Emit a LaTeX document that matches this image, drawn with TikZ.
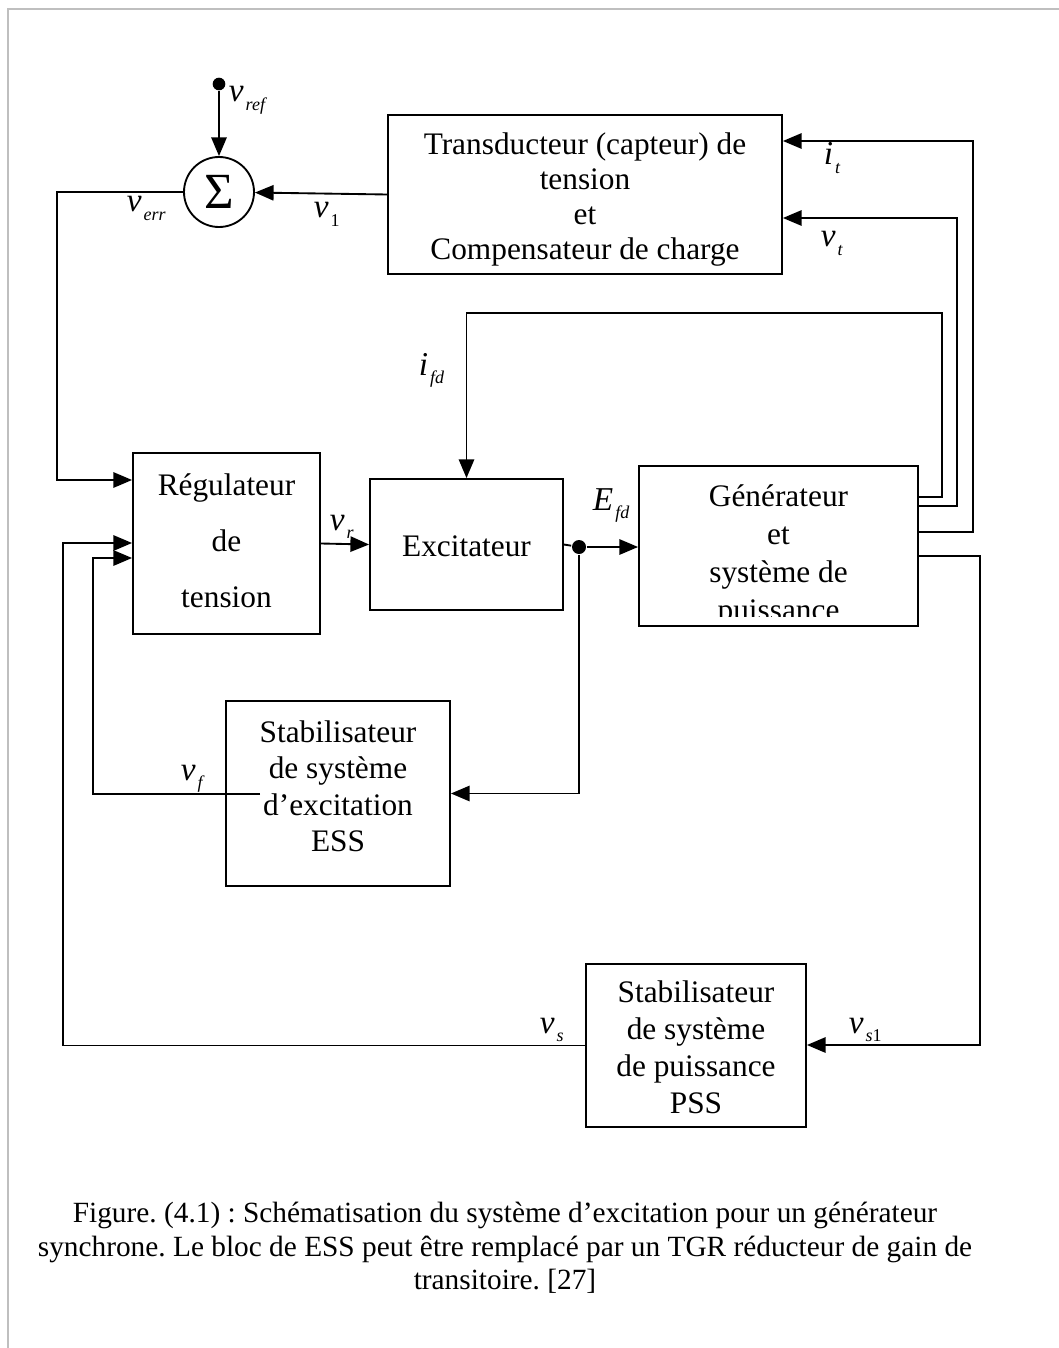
\documentclass[tikz,border=0pt]{standalone}
\usepackage{fontspec}
\setmainfont{Liberation Serif}
\frenchspacing
\usetikzlibrary{arrows.meta,fit}
% signal name with a lowered subscript
\newcommand\sgn[2]{#1\kern1.5pt\raisebox{-6.5pt}{\fontsize{13.5}{13.5}\selectfont #2}}
\begin{document}
\begin{tikzpicture}[x=0.75pt,y=-0.75pt,line width=1.4pt,
  blk/.style={draw,rectangle,inner sep=0pt},
  txt/.style={align=center,inner sep=0pt,font=\fontsize{23.5}{27.75}\selectfont},
  sig/.style={-{Triangle[length=14pt,width=11.5pt]}},
  lbl/.style={inner sep=0pt,anchor=base west,font=\fontsize{25}{25}\selectfont\itshape},
  dot/.style={circle,fill,inner sep=0pt},
  sumj/.style={draw,circle,inner sep=0pt,minimum size=52.5pt,
    font=\fontsize{38}{38}\selectfont},
  frame/.style={draw=black!25,line width=1.5pt}]
\useasboundingbox (0,0) rectangle (1059,1348);
\path[frame] (8,1348) -- (8,9) -- (1059,9);

% summing junction and reference input
\node[sumj] (sg) at (219,192) {Σ};
\node[dot,minimum size=9.5pt] (vr) at (219,84) {};

% blocks
\node[blk,fit={(388,115) (782,274)}] (tr) {};
\node[txt,font=\fontsize{23.5}{26.25}\selectfont] (trtxt) at ([yshift=-4pt]tr.center)
  {Transducteur (capteur) de\\tension\\et\\Compensateur de charge};
\node[blk,fit={(133,453) (320,634)}] (reg) {};
\node[txt,font=\fontsize{23.5}{42}\selectfont] (regtxt) at ([yshift=2pt]reg.center)
  {Régulateur\\de\\tension};
\node[blk,fit={(370,479) (563,610)}] (exc) {};
\node[txt] (exctxt) at ([yshift=-1pt]exc.center) {Excitateur};
\node[blk,fit={(639,466) (918,626)}] (gen) {};
\begin{scope}
  \clip (639,466) rectangle (918,616);
  \node[txt,font=\fontsize{23.5}{28.5}\selectfont] (gentxt)
    at (778.5,556) {Générateur\\et\\système de\\puissance};
\end{scope}
\node[blk,fit={(226,701) (450,886)}] (ess) {};
\node[txt,font=\fontsize{23.5}{27.2}\selectfont] (esstxt) at ([yshift=5.5pt]ess.center)
  {Stabilisateur\\de système\\d’excitation\\ESS};
\node[blk,fit={(586,964) (806,1127)}] (pss) {};
\node[txt] (psstxt) at ([yshift=-1pt]pss.center)
  {Stabilisateur\\de système\\de puissance\\PSS};

\node[dot,minimum size=10.5pt] (j) at (579,547) {};

% corner points of the wiring
\coordinate (c1) at (57,480);
\coordinate (vf0) at (260,794);
\coordinate (c2) at (93,558);
\coordinate (c3) at (63,543);
\coordinate (gifd) at (918,497);
\coordinate (k1) at (942,313);
\coordinate (gvt) at (918,506);
\coordinate (k2) at (957,218);
\coordinate (git) at (918,532);
\coordinate (k3) at (973,141);
\coordinate (gps) at (918,556);
\coordinate (k4) at (980,1045);

% connectors
\draw[sig] (vr) -- (sg.north);
\draw[sig] (tr.west) -- (sg);
\draw[sig] (sg.west) -| (c1) -- (c1 -| reg.west);
\draw[sig] (reg.east) -- (exc.west);
\draw (exc.east) -- (j);
\draw[sig] (j) -- (j -| gen.west);
\draw[sig] (j) |- (ess.east);
\draw[sig] (vf0) -| (c2) -- (c2 -| reg.west);
\draw[sig] (gifd) -| (k1) -| (exc.north);
\draw[sig] (gvt) -| (k2) -- (k2 -| tr.east);
\draw[sig] (git) -| (k3) -- (k3 -| tr.east);
\draw[sig] (gps) -| (k4) -- (k4 -| pss.east);
\draw[sig] (pss.west) -| (c3) -- (c3 -| reg.west);

% signal names
\node[lbl] (lvref) at (228,102) {\sgn{v}{ref}};
\node[lbl] (lverr) at (126,212) {\sgn{v}{err}};
\node[lbl] (lv1) at (313,218) {\sgn{v}{\upshape 1}};
\node[lbl] (lit) at (823,165) {\sgn{i}{t}};
\node[lbl] (lvt) at (820,247) {\sgn{v}{t}};
\node[lbl] (lifd) at (418,375) {\sgn{i}{fd}};
\node[lbl] (lefd) at (592,510) {\sgn{E}{fd}};
\node[lbl] (lvr) at (329,530) {\sgn{v}{r}};
\node[lbl] (lvf) at (180,780) {\sgn{v}{f}};
\node[lbl] (lvs) at (539,1033) {\sgn{v}{s}};
\node[lbl] (lvs1) at (848,1033) {\sgn{v}{s\upshape 1}};

% caption
\node[align=center,inner sep=0pt,font=\fontsize{22}{25}\selectfont] (cap) at (505,1248)
  {Figure. (4.1) : Schématisation du système d’excitation pour un générateur\\
   synchrone. Le bloc de ESS peut être remplacé par un TGR réducteur de gain de\\
   transitoire. [27]};
\end{tikzpicture}
\end{document}
